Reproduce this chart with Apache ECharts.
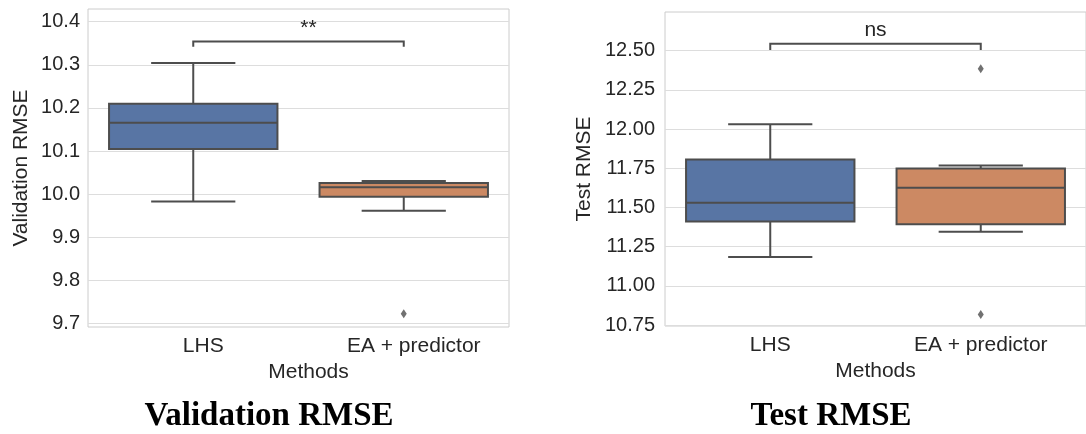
<!DOCTYPE html>
<html>
<head>
<meta charset="utf-8">
<title>Validation / Test RMSE</title>
<script src="https://cdn.jsdelivr.net/npm/echarts@6/dist/echarts.min.js"></script>
<style>
  html, body { margin: 0; padding: 0; background: #fff; }
  #chart { width: 1086px; height: 434px; }
</style>
</head>
<body>
<div id="chart"></div>
<script>
// data
const categories = ['LHS', 'EA + predictor']

// [min whisker, Q1, median, Q3, max whisker]
const valLHS = [9.983, 10.105, 10.166, 10.210, 10.304]
const valEA = [9.962, 9.994, 10.016, 10.026, 10.031]
const valOutliers = [[1, 9.723]]
const valTicks = [9.7, 9.8, 9.9, 10.0, 10.1, 10.2, 10.3, 10.4]
const valRange = [9.6924, 10.4294]
const valBracket = [10.342, 10.354]
const valSig = '**'

const testLHS = [11.184, 11.411, 11.530, 11.805, 12.030]
const testEA = [11.345, 11.392, 11.625, 11.748, 11.767]
const testOutliers = [[1, 12.384], [1, 10.818]]
const testTicks = [10.75, 11.00, 11.25, 11.50, 11.75, 12.00, 12.25, 12.50]
const testRange = [10.744, 12.746]
const testBracket = [12.504, 12.543]
const testSig = 'ns'

const boxColors = ['#5875a4', '#cc8963']
const lineColor = '#4d4d4d'
const textColor = '#262626'
const FONT = '"Liberation Sans", Arial, sans-serif'

const chart = echarts.init(document.getElementById('chart'))

function boxSeries(gridIdx, boxes) {
    return {
        type: 'custom',
        xAxisIndex: gridIdx,
        yAxisIndex: gridIdx,
        encode: { x: 0, y: [1, 2, 3, 4, 5] },
        data: boxes.map((b, i) => [i].concat(b)),
        renderItem: (params, api) => {
            const x = api.value(0)
            const lo = api.coord([x, api.value(1)])
            const q1 = api.coord([x, api.value(2)])
            const med = api.coord([x, api.value(3)])
            const q3 = api.coord([x, api.value(4)])
            const hi = api.coord([x, api.value(5)])
            const bw = api.size([1, 0])[0] * 0.8
            const cx = lo[0]
            const ln = { stroke: lineColor, lineWidth: 2 }
            return {
                type: 'group',
                children: [
                    { type: 'line', shape: { x1: cx, y1: hi[1], x2: cx, y2: q3[1] }, style: ln },
                    { type: 'line', shape: { x1: cx, y1: q1[1], x2: cx, y2: lo[1] }, style: ln },
                    { type: 'line', shape: { x1: cx - bw / 4, y1: hi[1], x2: cx + bw / 4, y2: hi[1] }, style: ln },
                    { type: 'line', shape: { x1: cx - bw / 4, y1: lo[1], x2: cx + bw / 4, y2: lo[1] }, style: ln },
                    {
                        type: 'rect',
                        shape: { x: cx - bw / 2, y: q3[1], width: bw, height: q1[1] - q3[1] },
                        style: { fill: boxColors[params.dataIndex], stroke: lineColor, lineWidth: 2 }
                    },
                    { type: 'line', shape: { x1: cx - bw / 2, y1: med[1], x2: cx + bw / 2, y2: med[1] }, style: ln }
                ]
            }
        }
    }
}

function bracketSeries(gridIdx, bracket, sig, shift) {
    return {
        type: 'custom',
        xAxisIndex: gridIdx,
        yAxisIndex: gridIdx,
        encode: { x: [0, 1], y: [2, 3] },
        data: [[0, 1, bracket[0], bracket[1]]],
        renderItem: (params, api) => {
            const a = api.coord([api.value(0), api.value(2)])
            const b = api.coord([api.value(0), api.value(3)])
            const c = api.coord([api.value(1), api.value(3)])
            const d = api.coord([api.value(1), api.value(2)])
            return {
                type: 'group',
                children: [{
                    type: 'polyline',
                    shape: { points: [a, b, c, d] },
                    style: { stroke: lineColor, lineWidth: 2, fill: null }
                }, {
                    type: 'text',
                    x: (b[0] + c[0]) / 2 + shift,
                    y: b[1] - 3,
                    style: {
                        text: sig,
                        font: '21px ' + FONT,
                        fill: textColor,
                        textAlign: 'center',
                        textVerticalAlign: 'bottom'
                    }
                }]
            }
        }
    }
}

function outlierSeries(gridIdx, pts) {
    return {
        type: 'scatter',
        xAxisIndex: gridIdx,
        yAxisIndex: gridIdx,
        symbol: 'diamond',
        symbolSize: [6, 9],
        itemStyle: { color: lineColor },
        data: pts
    }
}

function xAxisOpt(gridIdx, shift) {
    return {
        type: 'category',
        gridIndex: gridIdx,
        data: categories,
        name: 'Methods',
        nameLocation: 'middle',
        nameGap: 33,
        nameTextStyle: { fontSize: 21, fontFamily: FONT, color: textColor, padding: [0, 0, 0, shift * 2] },
        axisLine: { show: false },
        axisTick: { show: false },
        splitLine: { show: false },
        axisLabel: { fontSize: 21, fontFamily: FONT, color: textColor, margin: 9, padding: [0, 0, 0, shift * 2] }
    }
}

function yAxisOpt(gridIdx, name, range, ticks, digits, gap, margin) {
    return {
        type: 'value',
        gridIndex: gridIdx,
        min: range[0],
        max: range[1],
        name: name,
        nameLocation: 'middle',
        nameGap: gap,
        nameTextStyle: { fontSize: 21, fontFamily: FONT, color: textColor },
        axisLine: { show: false },
        axisTick: { show: false, customValues: ticks },
        axisLabel: {
            customValues: ticks,
            fontSize: 20,
            fontFamily: FONT,
            color: textColor,
            margin: margin,
            formatter: v => v.toFixed(digits)
        },
        splitLine: { show: true, lineStyle: { color: '#dddddd', width: 1 } }
    }
}

const option = {
    backgroundColor: '#ffffff',
    animation: false,
    grid: [
        { left: 88, top: 9, width: 421, height: 318, show: true, borderColor: '#cccccc', borderWidth: 1 },
        { left: 665, top: 12, width: 421, height: 314, show: true, borderColor: '#cccccc', borderWidth: 1 }
    ],
    xAxis: [xAxisOpt(0, 10), xAxisOpt(1, 0)],
    yAxis: [
        yAxisOpt(0, 'Validation RMSE', valRange, valTicks, 1, 56, 8),
        yAxisOpt(1, 'Test RMSE', testRange, testTicks, 2, 70, 10)
    ],
    graphic: [{
        type: 'text',
        x: 269,
        y: 416,
        style: {
            text: 'Validation RMSE',
            font: 'bold 33px "Liberation Serif", serif',
            fill: '#000',
            textAlign: 'center',
            textVerticalAlign: 'middle'
        }
    }, {
        type: 'text',
        x: 831,
        y: 416,
        style: {
            text: 'Test RMSE',
            font: 'bold 33px "Liberation Serif", serif',
            fill: '#000',
            textAlign: 'center',
            textVerticalAlign: 'middle'
        }
    }],
    series: [
        boxSeries(0, [valLHS, valEA]),
        outlierSeries(0, valOutliers),
        bracketSeries(0, valBracket, valSig, 10),
        boxSeries(1, [testLHS, testEA]),
        outlierSeries(1, testOutliers),
        bracketSeries(1, testBracket, testSig, 0)
    ]
}

chart.setOption(option)
</script>
</body>
</html>
